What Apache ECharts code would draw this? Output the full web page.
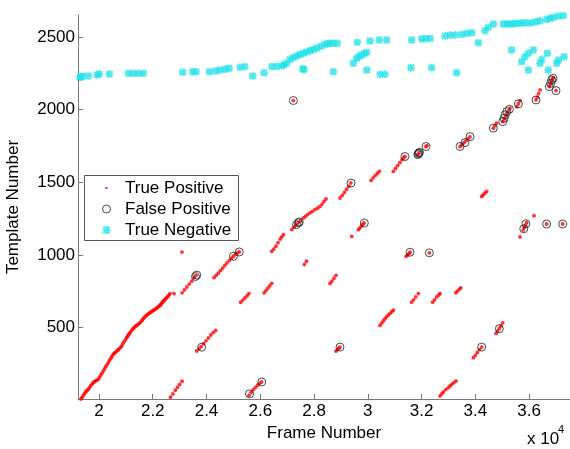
<!DOCTYPE html>
<html>
<head>
<meta charset="utf-8">
<script src="https://cdn.jsdelivr.net/npm/echarts@6/dist/echarts.min.js"></script>
<style>
  html, body { margin: 0; padding: 0; background: #fff; }
  #chart { width: 570px; height: 449px; }
</style>
</head>
<body>
<div id="chart"></div>
<script>
// tick positions
const xTicks = [20000, 22000, 24000, 26000, 28000, 30000, 32000, 34000, 36000];
const yTicks = [500, 1000, 1500, 2000, 2500];

// [frame, template]
const truePositive = [
  [19330, 10], [19375, 22], [19420, 35], [19465, 48], [19510, 60], [19555, 68], [19600, 77], [19645, 88],
  [19690, 100], [19740, 112], [19790, 123], [19835, 130], [19880, 135], [19930, 140], [19975, 145], [20020, 160],
  [20070, 175], [20115, 188], [20160, 202], [20205, 217], [20250, 232], [20300, 246], [20345, 260], [20390, 275],
  [20440, 290], [20485, 303], [20530, 317], [20565, 324], [20600, 330], [20660, 339], [20705, 347], [20750, 355],
  [20800, 365], [20845, 374], [20890, 390], [20940, 405], [20985, 418], [21030, 431], [21060, 440], [21090, 450],
  [21120, 458], [21155, 466], [21200, 478], [21250, 490], [21295, 498], [21340, 507], [21385, 514], [21430, 520],
  [21480, 527], [21525, 534], [21570, 545], [21620, 555], [21665, 565], [21710, 575], [21755, 583], [21800, 590],
  [21850, 597], [21895, 603], [21940, 609], [21990, 615], [22035, 620], [22085, 626], [22130, 633], [22180, 640],
  [22225, 646], [22270, 653], [22300, 660], [22330, 668], [22360, 675], [22390, 682], [22430, 690], [22470, 698],
  [22510, 705], [22555, 713], [22600, 724], [22640, 735],
  [22790, 735], [23090, 1020],
  [23090, 740], [23180, 760], [23270, 780], [23360, 800], [23450, 820], [23540, 845], [23610, 860],
  [22660, 22], [22750, 45], [22840, 70], [22920, 90], [23000, 110], [23090, 132],
  [23635, 340], [23720, 355], [23800, 370], [23890, 390], [23980, 410], [24070, 430], [24160, 450], [24250, 467], [24340, 481],
  [25580, 35], [25660, 55], [25740, 75], [25820, 90], [25900, 105], [25980, 118], [26050, 127],
  [25270, 675], [25350, 690], [25430, 705], [25510, 720], [25580, 735],
  [26140, 740], [26210, 755], [26280, 772], [26350, 788], [26425, 805],
  [24280, 845], [24360, 860], [24440, 875], [24520, 893], [24600, 910], [24680, 928], [24760, 945], [24850, 962],
  [24930, 978], [25000, 992], [25080, 1005], [25150, 1015], [25220, 1021],
  [26425, 1025], [26500, 1040], [26580, 1060], [26660, 1085], [26740, 1110], [26800, 1125], [26860, 1140],
  [27170, 1175], [27250, 1190], [27320, 1205], [27400, 1220], [27480, 1232],
  [27600, 1255], [27680, 1265], [27760, 1278], [27850, 1290], [27940, 1300], [28035, 1312], [28130, 1322],
  [28220, 1334], [28300, 1350], [28370, 1368], [28445, 1385],
  [28965, 1392], [29050, 1410], [29130, 1430], [29210, 1452], [29290, 1472], [29370, 1495],
  [27640, 935], [27720, 957],
  [30120, 1513], [30200, 1530], [30280, 1548], [30360, 1562], [30430, 1575],
  [30950, 1575], [31030, 1595], [31110, 1615], [31190, 1635], [31270, 1655], [31330, 1667], [31380, 1678],
  [31860, 1690], [31900, 1700], [32160, 1745], [32200, 1752],
  [33430, 1745], [33500, 1758], [33580, 1772], [33650, 1785], [33720, 1798], [33800, 1812],
  [34235, 1403], [34290, 1413], [34350, 1425], [34420, 1437],
  [34667, 1872], [34730, 1890], [34790, 1906],
  [35020, 1917], [35070, 1935], [35120, 1955], [35170, 1972], [35230, 1990], [35290, 2010],
  [35537, 2020], [35600, 2040], [35660, 2061],
  [36256, 2066], [36300, 2085], [36350, 2110], [36405, 2135],
  [36750, 2157], [36790, 2175], [36830, 2195], [36870, 2210], [36900, 2220], [37000, 2130],
  [28593, 804], [28660, 820], [28740, 840], [28816, 860],
  [30450, 516], [30520, 532], [30580, 548], [30640, 562], [30700, 575], [30760, 587], [30825, 598], [30890, 610], [30950, 621],
  [31630, 676], [31700, 692], [31780, 712], [31880, 735],
  [32410, 676], [32480, 692], [32560, 712], [32640, 725], [32685, 735],
  [33270, 740], [33330, 752], [33400, 763], [33455, 774],
  [28816, 339], [28870, 350], [28920, 358], [28965, 367],
  [33925, 294], [34000, 310], [34070, 330], [34150, 350], [34236, 367],
  [34770, 461], [34830, 478], [34890, 495], [34950, 512], [35018, 534],
  [32685, 31], [32750, 45], [32810, 58], [32900, 75], [32995, 88], [33060, 100], [33120, 111], [33200, 123], [33280, 134],
  [29400, 1128], [29650, 1174], [29700, 1185], [29760, 1198], [29810, 1210], [29860, 1220],
  [31420, 991], [31480, 1000], [31530, 1010], [31570, 1019], [32287, 1015],
  [35661, 1124], [35780, 1172], [35820, 1190], [35860, 1205], [35910, 1222], [36182, 1270], [36650, 1213], [37250, 1213],
  [27230, 2062]
];

const falsePositive = [
  [23590, 852], [23640, 862], [23820, 366], [25000, 991], [25220, 1021], [25600, 45], [26052, 127],
  [27230, 2062], [27350, 1209], [27420, 1222], [27450, 1227], [28965, 367], [29374, 1495], [29870, 1220],
  [31383, 1677], [31569, 1019], [32287, 1015], [31860, 1690], [31880, 1696], [31900, 1702], [31920, 1706],
  [32164, 1746], [33430, 1746], [33615, 1773], [33800, 1814], [34236, 367], [34890, 493], [34667, 1872],
  [35018, 1917], [35070, 1940], [35106, 1963], [35169, 1986], [35266, 2002], [35600, 2039], [36256, 2066],
  [36750, 2157], [36803, 2181], [36840, 2203], [36890, 2215], [37000, 2130],
  [35800, 1180], [35880, 1215], [36650, 1213], [37250, 1213]
];

const trueNegative = [
  [19290, 2222], [19330, 2228], [19360, 2226], [19600, 2231], [19935, 2238], [20010, 2244], [20385, 2244],
  [21090, 2249], [21275, 2249], [21460, 2249], [21650, 2249],
  [23115, 2256], [23485, 2260], [23610, 2260], [24105, 2260], [24350, 2265], [24500, 2272], [24690, 2277],
  [24845, 2284], [25245, 2290], [25430, 2295], [25720, 2231], [26140, 2253],
  [26425, 2295], [26600, 2297], [26795, 2299], [26880, 2308], [26980, 2318], [27105, 2345], [27230, 2356],
  [27355, 2368], [27480, 2378], [27600, 2387], [27720, 2395], [27850, 2404], [27970, 2412], [28100, 2421],
  [28250, 2435], [28405, 2448], [28500, 2452], [28595, 2455], [28720, 2455], [28865, 2455],
  [27580, 2280], [27620, 2275], [28715, 2260],
  [29610, 2462], [30080, 2471], [30425, 2478], [30700, 2478],
  [29460, 2318], [29585, 2352], [29680, 2365], [29770, 2375], [29870, 2385], [29960, 2393],
  [29960, 2272], [30455, 2242], [30640, 2242],
  [31630, 2478], [32005, 2485], [32160, 2487], [32315, 2489], [31605, 2288], [32375, 2288],
  [32870, 2505], [33055, 2512], [33245, 2512], [33490, 2517], [33680, 2524], [33865, 2528], [34110, 2459],
  [34360, 2542], [34480, 2565], [34670, 2588], [35040, 2588], [35165, 2588], [35290, 2588], [35415, 2590],
  [35540, 2592], [35660, 2594], [35785, 2596], [35940, 2596], [36095, 2596], [36250, 2603], [36405, 2610],
  [36655, 2620], [36780, 2627], [36900, 2633], [37085, 2642], [37270, 2645],
  [33305, 2253], [35350, 2409], [35725, 2329], [35845, 2363], [35970, 2387], [36155, 2409], [35970, 2272],
  [36405, 2318], [36470, 2345], [36675, 2387], [36715, 2272], [37025, 2318], [37085, 2341], [37300, 2363]
];

const FONT = '"Liberation Sans", Arial, Helvetica, sans-serif';
// matlab style '*' marker
const STAR = 'path://M0 3.7L10 3.7L10 6.3L0 6.3Z M3.7 0L6.3 0L6.3 10L3.7 10Z' +
  ' M1.92 0.08L9.92 8.08L8.08 9.92L0.08 1.92Z M8.08 0.08L9.92 1.92L1.92 9.92L0.08 8.08Z';
// small dot with an empty frame so the legend icon stays tiny
const DOT = 'path://M0 0Z M10 10Z M3.6 3.6L6.4 3.6L6.4 6.4L3.6 6.4Z';

const chart = echarts.init(document.getElementById('chart'), null, { renderer: 'canvas' });

chart.setOption({
  animation: false,
  backgroundColor: '#fff',
  textStyle: { fontFamily: FONT },
  grid: { left: 78, right: 0, top: 15, bottom: 50, outerBoundsMode: 'none' },
  xAxis: {
    type: 'value',
    min: 19220,
    max: 37520,
    name: 'Frame Number',
    nameLocation: 'middle',
    nameGap: 23,
    nameTextStyle: { fontSize: 17, color: '#000', fontFamily: FONT },
    splitLine: { show: false },
    axisLine: { lineStyle: { color: '#7a7a7a', width: 1 } },
    axisTick: { inside: true, length: 5, lineStyle: { color: '#7a7a7a' }, customValues: xTicks },
    axisLabel: {
      customValues: xTicks,
      margin: 4,
      fontSize: 17,
      color: '#000',
      fontFamily: FONT,
      formatter: v => String(+(v / 10000).toFixed(1))
    }
  },
  yAxis: {
    type: 'value',
    min: 10,
    max: 2650,
    name: 'Template Number',
    nameLocation: 'middle',
    nameGap: 56,
    nameTextStyle: { fontSize: 17, color: '#000', fontFamily: FONT },
    splitLine: { show: false },
    axisLine: { show: true, lineStyle: { color: '#7a7a7a', width: 1 } },
    axisTick: { show: true, inside: true, length: 5, lineStyle: { color: '#7a7a7a' }, customValues: yTicks },
    axisLabel: {
      customValues: yTicks,
      margin: 3,
      fontSize: 17,
      color: '#000',
      fontFamily: FONT,
      formatter: v => String(v)
    }
  },
  legend: {
    orient: 'vertical',
    left: 102,
    top: 179.5,
    padding: 0,
    z: 10,
    itemWidth: 27,
    itemHeight: 8,
    itemGap: 4,
    textStyle: { fontSize: 17, color: '#000', fontFamily: FONT },
    data: [
      { name: 'True Positive', icon: DOT },
      { name: 'False Positive', icon: 'circle', itemStyle: { color: 'rgba(0,0,0,0)', borderColor: '#222', borderWidth: 1 } },
      { name: 'True Negative', icon: STAR }
    ]
  },
  graphic: [
    // legend frame, under the legend items
    {
      type: 'rect', left: 84, top: 175, z: 5,
      shape: { width: 154, height: 65 },
      style: { fill: '#fff', stroke: '#555', lineWidth: 1 }
    },
    { type: 'text', left: 527, top: 431, style: { text: 'x 10', fontSize: 17, fill: '#000', fontFamily: FONT } },
    { type: 'text', left: 558, top: 424, style: { text: '4', fontSize: 11, fill: '#000', fontFamily: FONT } }
  ],
  series: [
    {
      name: 'True Positive',
      type: 'scatter',
      symbol: 'circle',
      symbolSize: 3.8,
      itemStyle: { color: '#ff0000' },
      data: truePositive
    },
    {
      name: 'False Positive',
      type: 'scatter',
      symbol: 'circle',
      symbolSize: 8,
      itemStyle: { color: 'rgba(0,0,0,0)', borderColor: '#222', borderWidth: 1 },
      data: falsePositive
    },
    {
      name: 'True Negative',
      type: 'scatter',
      symbol: STAR,
      symbolSize: 7.5,
      itemStyle: { color: '#22e2ea' },
      data: trueNegative
    }
  ]
});
</script>
</body>
</html>
